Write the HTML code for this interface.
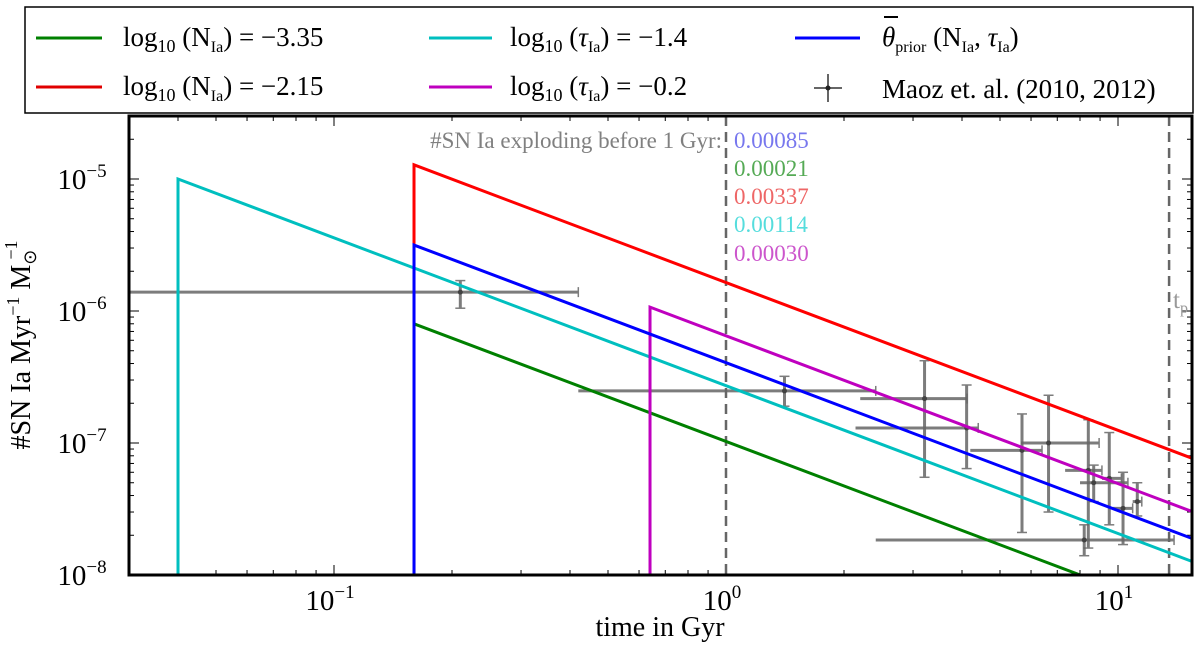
<!DOCTYPE html>
<html><head><meta charset="utf-8"><style>
body{margin:0;background:#fff;}
svg{display:block;font-family:"Liberation Serif",serif;}
</style></head><body>
<svg id="c" width="1200" height="652" viewBox="0 0 1200 652" xmlns="http://www.w3.org/2000/svg" font-family="Liberation Serif, serif">
<g id="legend">
<rect x="25" y="7" width="1168" height="106" fill="#fff" stroke="#000" stroke-width="1.5"/>
<g><line x1="36" y1="38" x2="102" y2="38" stroke="#008000" stroke-width="3"/><text x="123" y="46" font-size="27">log<tspan font-size="18" dy="6">10</tspan><tspan dy="-6"> (N</tspan><tspan font-size="16" dy="6">Ia</tspan><tspan dy="-6">) = −3.35</tspan></text></g>
<g><line x1="36" y1="87" x2="102" y2="87" stroke="#e00000" stroke-width="3"/><text x="123" y="95" font-size="27">log<tspan font-size="18" dy="6">10</tspan><tspan dy="-6"> (N</tspan><tspan font-size="16" dy="6">Ia</tspan><tspan dy="-6">) = −2.15</tspan></text></g>
<g><line x1="429" y1="38" x2="492" y2="38" stroke="#00bfbf" stroke-width="3"/><text x="510" y="46" font-size="27">log<tspan font-size="18" dy="6">10</tspan><tspan dy="-6"> (</tspan><tspan font-style="italic">τ</tspan><tspan font-size="16" dy="6">Ia</tspan><tspan dy="-6">) = −1.4</tspan></text></g>
<g><line x1="429" y1="87" x2="492" y2="87" stroke="#bf00bf" stroke-width="3"/><text x="510" y="95" font-size="27">log<tspan font-size="18" dy="6">10</tspan><tspan dy="-6"> (</tspan><tspan font-style="italic">τ</tspan><tspan font-size="16" dy="6">Ia</tspan><tspan dy="-6">) = −0.2</tspan></text></g>
<g><line x1="795" y1="38" x2="860" y2="38" stroke="#0000ff" stroke-width="3"/><line x1="884" y1="17" x2="898" y2="17" stroke="#000" stroke-width="2"/><text x="882" y="46" font-size="27"><tspan font-style="italic">θ</tspan><tspan font-size="16" dy="6">prior</tspan><tspan dy="-6"> (N</tspan><tspan font-size="16" dy="6">Ia</tspan><tspan dy="-6">, </tspan><tspan font-style="italic">τ</tspan><tspan font-size="16" dy="6">Ia</tspan><tspan dy="-6">)</tspan></text></g>
<g><line x1="814" y1="88" x2="842" y2="88" stroke="#666" stroke-width="2"/><line x1="828" y1="74" x2="828" y2="102" stroke="#666" stroke-width="2"/><circle cx="828" cy="88" r="2.5" fill="#222"/><text x="882" y="98" font-size="27">Maoz et. al. (2010, 2012)</text></g>
</g>
<g id="plot"></g>
<rect x="129" y="116" width="1063" height="459" fill="none" stroke="#000" stroke-width="3"/>
<text x="30" y="345" font-size="28" text-anchor="middle" transform="rotate(-90 30 345)">#SN Ia Myr<tspan font-size="18" dy="-11">−1</tspan><tspan dy="11"> M</tspan><tspan font-size="18" dy="6">⊙</tspan><tspan font-size="18" dx="-10" dy="-19">−1</tspan></text>
<text x="660" y="636" font-size="28" text-anchor="middle">time in Gyr</text>
<g font-size="23">
<text x="722" y="148" text-anchor="end" fill="#808080">#SN Ia exploding before 1 Gyr:</text>
<text x="734" y="148" fill="#7777ee">0.00085</text>
<text x="734" y="176" fill="#55aa55">0.00021</text>
<text x="734" y="204" fill="#ee6666">0.00337</text>
<text x="734" y="232" fill="#55dddd">0.00114</text>
<text x="734" y="261" fill="#cc55cc">0.00030</text>
<text x="1173" y="308" fill="#999" font-size="25">t<tspan font-size="16" dy="5">p</tspan></text>
</g>
</svg>
<script>
const xTicks=[0.1,1,10];
const xTickLabels=["−1","0","1"];
const yTicks=[1e-8,1e-7,1e-6,1e-5];
const yTickLabels=["−8","−7","−6","−5"];
const seriesNames=["green","red","cyan","magenta","blue"];
const seriesColors=["#008000","#ff0000","#00bfbf","#bf00bf","#0000ff"];
const seriesStart=[0.16,0.16,0.04,0.64,0.16];
const seriesAmp=[8.0e-7,1.28e-5,1.0e-5,1.07e-6,3.16e-6];
const slope=-1.12;
const tMax=15.4;
const obsT=[0.21,1.41,3.21,4.11,5.69,6.65,8.4,8.67,9.5,10.3,11.2,8.2];
const obsR=[1.39e-6,2.48e-7,2.17e-7,1.3e-7,8.8e-8,1.0e-7,6.2e-8,5.0e-8,5.4e-8,3.2e-8,3.6e-8,1.84e-8];
const obsTlo=[0.02,0.42,2.2,2.14,4.2,5.66,7.33,8.0,9.1,9.7,10.9,2.41];
const obsThi=[0.42,2.41,4.12,4.4,6.4,8.95,9.1,10.6,10.2,10.9,11.5,13.9];
const obsRlo=[1.05e-6,1.9e-7,5.5e-8,6.4e-8,2.1e-8,3.0e-8,1.6e-8,3.6e-8,2.4e-8,1.7e-8,2.8e-8,1.4e-8];
const obsRhi=[1.7e-6,3.2e-7,4.2e-7,2.75e-7,1.66e-7,2.3e-7,1.5e-7,6.8e-8,1.2e-7,6e-8,5.0e-8,2.4e-8];
const X0=129,X1=1192,Y0=116,Y1=575;
const xs=t=>726+Math.log10(t)*392;
const ys=v=>575-(Math.log10(v)+8)*132;
const ns="http://www.w3.org/2000/svg";
const g=document.getElementById('plot');
function mk(tag,attrs,parent){const e=document.createElementNS(ns,tag);for(const k in attrs)e.setAttribute(k,attrs[k]);(parent||g).appendChild(e);return e;}
const clip=mk('clipPath',{id:'cp'});mk('rect',{x:X0,y:Y0,width:X1-X0,height:Y1-Y0},clip);
for(let d=-2;d<=1;d++)for(let m=1;m<10;m++){const t=m*Math.pow(10,d);const x=xs(t);if(x<X0||x>X1)continue;const L=m===1?10:5;
const a=mk('line',{x1:x,y1:Y1,x2:x,y2:Y1-L,stroke:'#000','stroke-width':1});
const b=mk('line',{x1:x,y1:Y0,x2:x,y2:Y0+L,stroke:'#000','stroke-width':1});}
for(let d=-8;d<=-5;d++)for(let m=1;m<10;m++){const v=m*Math.pow(10,d);const y=ys(v);if(y<Y0||y>Y1)continue;const L=m===1?10:5;
const a=mk('line',{x1:X0,y1:y,x2:X0+L,y2:y,stroke:'#000','stroke-width':1});
const b=mk('line',{x1:X1,y1:y,x2:X1-L,y2:y,stroke:'#000','stroke-width':1});}
xTicks.forEach((t,i)=>{const e=mk('text',{x:xs(t)-4,y:610,'font-size':29,'text-anchor':'middle'});e.innerHTML='10<tspan font-size="19" dy="-12">'+xTickLabels[i]+'</tspan>';});
yTicks.forEach((v,i)=>{const e=mk('text',{x:82,y:ys(v)+10,'font-size':29,'text-anchor':'middle'});e.innerHTML='10<tspan font-size="19" dy="-12">'+yTickLabels[i]+'</tspan>';});
const v1=mk('line',{x1:xs(1),y1:Y0,x2:xs(1),y2:Y1,stroke:'#666','stroke-width':2.5,'stroke-dasharray':'10,6'});

const v2=mk('line',{x1:xs(13.5),y1:Y0,x2:xs(13.5),y2:Y1,stroke:'#666','stroke-width':2.5,'stroke-dasharray':'10,6'});

const sg=mk('g',{'clip-path':'url(#cp)'});
obsT.forEach((t,i)=>{const e=mk('g',{stroke:'#666','stroke-width':3,opacity:0.85},sg);

const x=xs(t),y=ys(obsR[i]);
mk('line',{x1:xs(obsTlo[i]),y1:y,x2:xs(obsThi[i]),y2:y},e);
mk('line',{x1:x,y1:ys(obsRlo[i]),x2:x,y2:ys(obsRhi[i])},e);
mk('line',{x1:xs(obsThi[i]),y1:y-5,x2:xs(obsThi[i]),y2:y+5,'stroke-width':1.5},e);
mk('line',{x1:x-5,y1:ys(obsRlo[i]),x2:x+5,y2:ys(obsRlo[i]),'stroke-width':1.5},e);
mk('line',{x1:x-5,y1:ys(obsRhi[i]),x2:x+5,y2:ys(obsRhi[i]),'stroke-width':1.5},e);
mk('circle',{cx:x,cy:y,r:2.5,fill:'#222',stroke:'none'},e);});
seriesNames.forEach((n,i)=>{const t0=seriesStart[i],A=seriesAmp[i];const end=A*Math.pow(tMax/t0,slope);
const d='M'+xs(t0)+','+(Y1+5)+' L'+xs(t0)+','+ys(A)+' L'+xs(tMax)+','+ys(end);
const p=mk('path',{d:d,fill:'none',stroke:seriesColors[i],'stroke-width':3},sg);
});
</script>
</body></html>
